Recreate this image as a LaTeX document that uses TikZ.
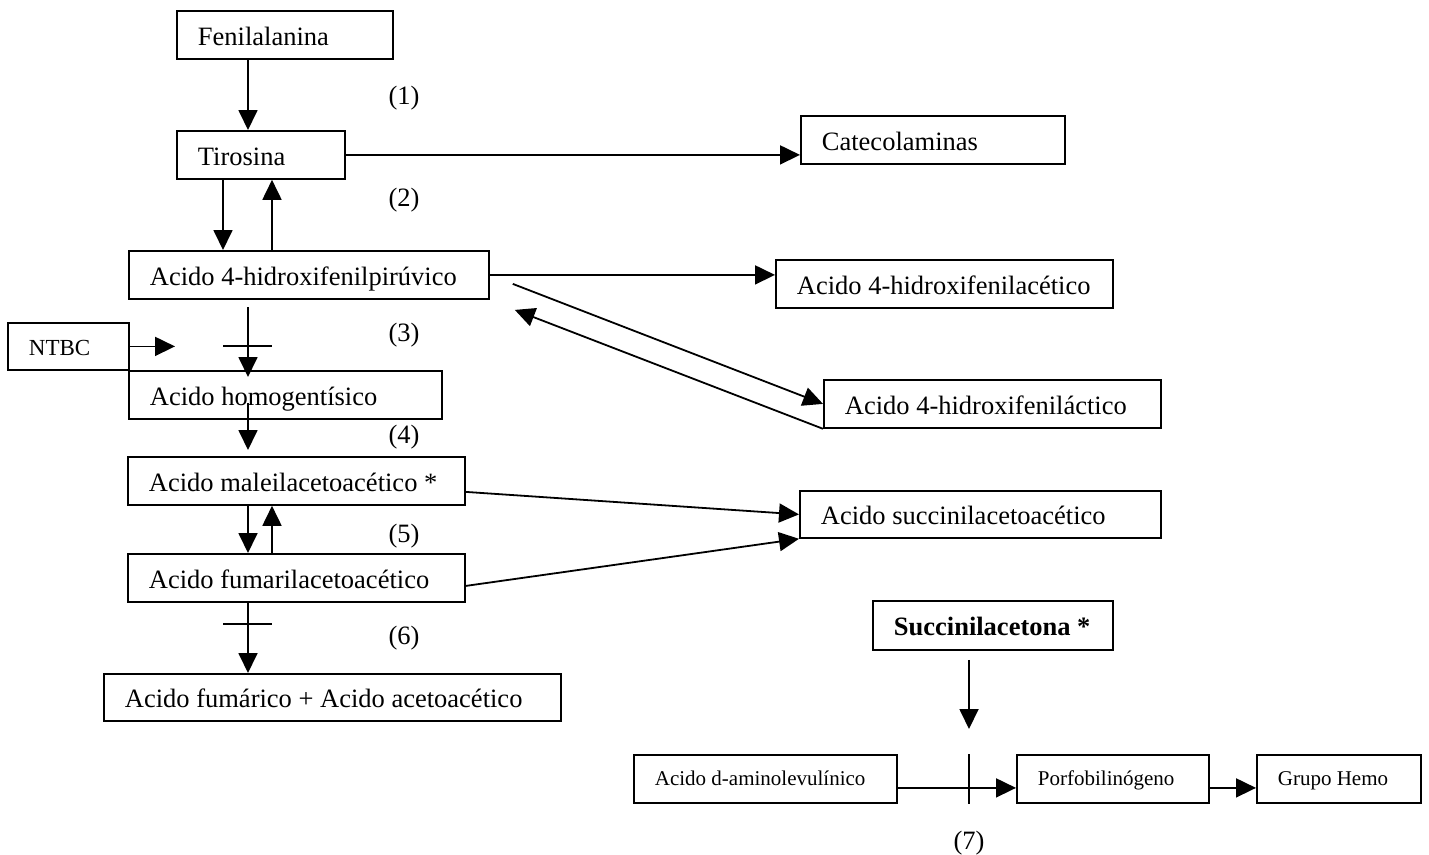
\documentclass[tikz,border=0pt]{standalone}
\usepackage{fontspec}
\setmainfont{Liberation Serif}
\usetikzlibrary{arrows.meta,calc}
\newcommand\bigtxt{\fontsize{26.5}{30}\selectfont}
\newcommand\smalltxt{\fontsize{21}{25}\selectfont}
\newcommand\ntbctxt{\fontsize{23}{27}\selectfont}
\newcommand\boxtxt[2]{\makebox[#1pt][l]{#2}}
\begin{document}
\begin{tikzpicture}[x=1pt,y=-1pt,
  box/.style={draw, line width=1.8pt, rectangle, anchor=north west, inner xsep=21pt, inner ysep=0pt,
              text height=21pt, text depth=0pt, minimum height=48pt, font=\bigtxt},
  sbox/.style={box, text height=14pt, font=\smalltxt},
  lab/.style={inner sep=0pt, font=\bigtxt},
  arr/.style={line width=1.8pt, -{Triangle[length=20pt,width=19pt]}},
  ln/.style={line width=1.8pt}]
\useasboundingbox[fill=white] (0,0) rectangle (1429,854);

% boxes
\node[box] (fen) at (176,10) {\boxtxt{174}{Fenilalanina}};
\node[box] (tir) at (176,130) {\boxtxt{126}{Tirosina}};
\node[box] (pir) at (128,250) {\boxtxt{318}{Acido 4-hidroxifenilpirúvico}};
\node[box, minimum height=47pt, text height=19pt, font=\ntbctxt] (ntbc) at (7,322) {\boxtxt{79}{NTBC}};
\node[box] (hom) at (128,370) {\boxtxt{271}{Acido homogentísico}};
\node[box] (mal) at (127,456) {\boxtxt{295}{Acido maleilacetoacético *}};
\node[box] (fum) at (127,553) {\boxtxt{295}{Acido fumarilacetoacético}};
\node[box, minimum height=47pt] (fmc) at (103,673) {\boxtxt{415}{Acido fumárico + Acido acetoacético}};
\node[box] (cat) at (800,115) {\boxtxt{222}{Catecolaminas}};
\node[box] (ace) at (775,259) {\boxtxt{295}{Acido 4-hidroxifenilacético}};
\node[box] (lac) at (823,379) {\boxtxt{295}{Acido 4-hidroxifeniláctico}};
\node[box, minimum height=47pt] (succ) at (799,490) {\boxtxt{319}{Acido succinilacetoacético}};
\node[box, minimum height=49pt] (suca) at (872,600) {\boxtxt{198}{\bfseries Succinilacetona *}};
\node[sbox] (ami) at (633,754) {\boxtxt{221}{Acido d-aminolevulínico}};
\node[sbox] (por) at (1016,754) {\boxtxt{150}{Porfobilinógeno}};
\node[sbox] (gru) at (1256,754) {\boxtxt{122}{Grupo Hemo}};

% step labels
\node[lab] (l1) at (404,98) {(1)};
\node[lab] (l2) at (404,200) {(2)};
\node[lab] (l3) at (404,335) {(3)};
\node[lab] (l4) at (404,437) {(4)};
\node[lab] (l5) at (404,536) {(5)};
\node[lab] (l6) at (404,638) {(6)};
\node[lab] (l7) at (969,843) {(7)};

% free ends
\coordinate (dstart) at ($(pir.east)+(23,9)$);
\coordinate (dend) at ($(pir.east)+(25,35)$);
\coordinate (s3) at (248,307);
\coordinate (e3) at ($(248,0 |- hom.north)+(0,7)$);
\coordinate (ntbcend) at (175,0 |- ntbc.east);
\coordinate (s4) at (248,403);
\coordinate (e4) at ($(248,0 |- mal.north)+(0,-6)$);
\coordinate (s7) at ($(969,0 |- suca.south)+(0,9)$);
\coordinate (e7) at ($(969,0 |- ami.north)+(0,-25)$);

% connectors
\draw[arr] (248,0 |- fen.south) -- (248,0 |- tir.north);
\draw[arr] (223,0 |- tir.south) -- (223,0 |- pir.north);
\draw[arr] (272,0 |- pir.north) -- (272,0 |- tir.south);
\draw[arr] (tir.east) -- (tir.east -| cat.west);
\draw[arr] (pir.east) -- (pir.east -| ace.west);
\draw[arr] (dstart) -- (lac.west);
\draw[arr] (lac.south west) -- (dend);
\draw[arr] (s3) -- (e3);
\draw[ln] (223,346) -- (272,346);
\draw[arr] (ntbc.east) -- (ntbcend);
\draw[arr] (s4) -- (e4);
\draw[arr] (248,0 |- mal.south) -- (248,0 |- fum.north);
\draw[arr] (272,0 |- fum.north) -- (272,0 |- mal.south);
\draw[arr] ($(mal.east)+(0,11)$) -- (succ.west);
\draw[arr] ($(fum.east)+(0,8)$) -- (succ.south west);
\draw[arr] (248,0 |- fum.south) -- (248,0 |- fmc.north);
\draw[ln] (223,624) -- (272,624);
\draw[arr] (s7) -- (e7);
\draw[ln] (969,0 |- ami.north) -- (969,0 |- ami.south);
\draw[arr] ($(ami.east)+(0,9)$) -- ($(por.west)+(0,9)$);
\draw[arr] ($(por.east)+(0,9)$) -- ($(gru.west)+(0,9)$);
\end{tikzpicture}
\end{document}
